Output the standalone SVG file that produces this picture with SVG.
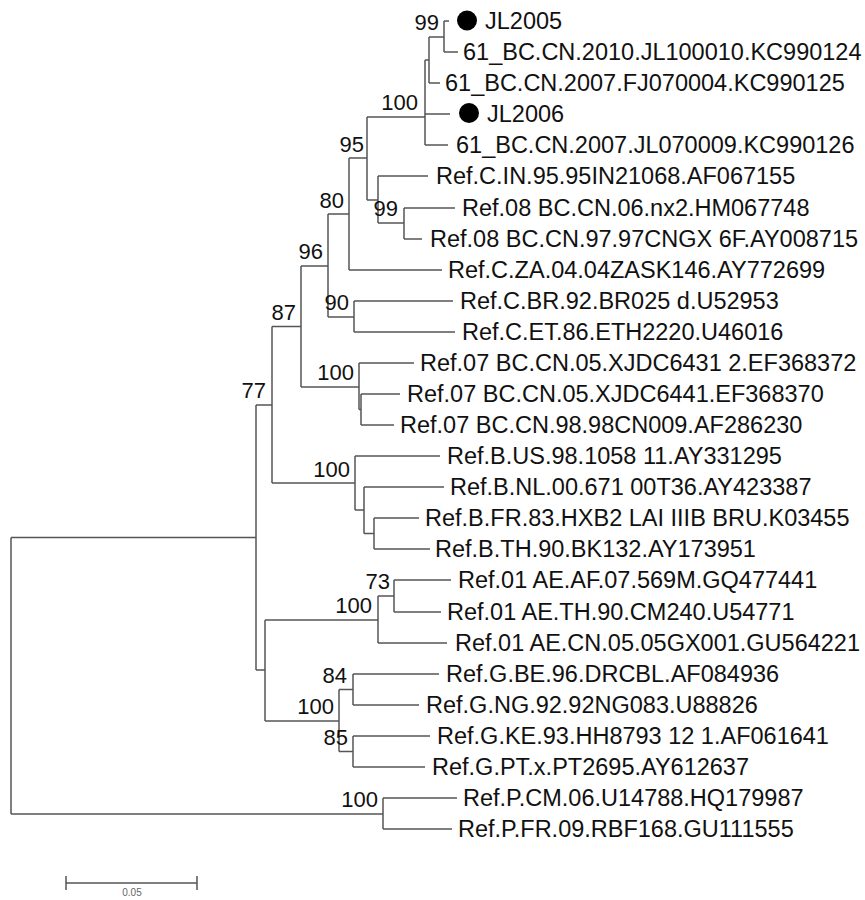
<svg xmlns="http://www.w3.org/2000/svg" width="865" height="900" viewBox="0 0 865 900">
<style>
.e{fill:none;stroke:#555;stroke-width:1.5}
.t{font-family:"Liberation Sans",Arial,sans-serif;font-size:23.5px;fill:#111}
.b{font-family:"Liberation Sans",Arial,sans-serif;font-size:22px;fill:#111;text-anchor:end}
.s{font-family:"Liberation Sans",Arial,sans-serif;font-size:10px;fill:#666;text-anchor:middle}
</style>
<rect width="865" height="900" fill="#fff"/>
<g id="connectors" class="e">
<path d="M11,537.5V814M11,537.5H256M11,814H383"/>
<path d="M256,405V670M256,405H272M256,670H265"/>
<path d="M272,326.5V483M272,326.5H301M272,483H355"/>
<path d="M301,266V387M301,266H328M301,387H359"/>
<path d="M328,214V317M328,214H349M328,317H354"/>
<path d="M349,158V270M349,158H367M349,270H442"/>
<path d="M367,117V200M367,117H425M367,200H378"/>
<path d="M425,60V145M425,60H429M425,114H450M425,145H448"/>
<path d="M429,37V83M429,37H444M429,83H440"/>
<path d="M444,21V52M444,21H449M444,52H458"/>
<path d="M378,176V223M378,176H428M378,223H404"/>
<path d="M404,208V239M404,208H455M404,239H422"/>
<path d="M354,301V332M354,301H453M354,332H455"/>
<path d="M359,363V409.5M359,363H414M359,409.5H361"/>
<path d="M361,394V425M361,394H400M361,425H394"/>
<path d="M355,456V510M355,456H440M355,510H364"/>
<path d="M364,487V533.5M364,487H444M364,533.5H374"/>
<path d="M374,518V549M374,518H419M374,549H430"/>
<path d="M265,620V721M265,620H378M265,721H339"/>
<path d="M378,596V643M378,596H394M378,643H447"/>
<path d="M394,580V612M394,580H451M394,612H441"/>
<path d="M339,689.5V751.5M339,689.5H353M339,751.5H353"/>
<path d="M353,674V705M353,674H439M353,705H419"/>
<path d="M353,736V767M353,736H430M353,767H425"/>
<path d="M383,798V829M383,798H457M383,829H452"/>
</g>
<g id="scale">
<path class="e" d="M66,883H197M66,876V890M197,876V890"/>
<text class="s" x="132" y="896">0.05</text>
</g>
<g id="bootstrap">
<text class="b" x="439" y="30">99</text>
<text class="b" x="418" y="110">100</text>
<text class="b" x="364" y="152">95</text>
<text class="b" x="398" y="216">99</text>
<text class="b" x="344" y="208">80</text>
<text class="b" x="323" y="259">96</text>
<text class="b" x="349" y="310">90</text>
<text class="b" x="296" y="320">87</text>
<text class="b" x="354" y="380">100</text>
<text class="b" x="266" y="398">77</text>
<text class="b" x="350" y="477">100</text>
<text class="b" x="390" y="589">73</text>
<text class="b" x="372" y="613">100</text>
<text class="b" x="347" y="683">84</text>
<text class="b" x="334" y="714">100</text>
<text class="b" x="348" y="745">85</text>
<text class="b" x="378" y="807">100</text>
</g>
<g id="n1"><circle cx="467" cy="20.5" r="10" fill="#000"/><text class="t" x="485" y="29">JL2005</text></g>
<g id="n2"><text class="t" x="463" y="60">61_BC.CN.2010.JL100010.KC990124</text></g>
<g id="n3"><text class="t" x="445" y="91">61_BC.CN.2007.FJ070004.KC990125</text></g>
<g id="n4"><circle cx="469" cy="113" r="10" fill="#000"/><text class="t" x="487" y="122">JL2006</text></g>
<g id="n5"><text class="t" x="456" y="153">61_BC.CN.2007.JL070009.KC990126</text></g>
<g id="n6"><text class="t" x="436" y="184">Ref.C.IN.95.95IN21068.AF067155</text></g>
<g id="n7"><text class="t" x="462" y="216">Ref.08 BC.CN.06.nx2.HM067748</text></g>
<g id="n8"><text class="t" x="430" y="247">Ref.08 BC.CN.97.97CNGX 6F.AY008715</text></g>
<g id="n9"><text class="t" x="448" y="278">Ref.C.ZA.04.04ZASK146.AY772699</text></g>
<g id="n10"><text class="t" x="460" y="309">Ref.C.BR.92.BR025 d.U52953</text></g>
<g id="n11"><text class="t" x="462" y="340">Ref.C.ET.86.ETH2220.U46016</text></g>
<g id="n12"><text class="t" x="420" y="371">Ref.07 BC.CN.05.XJDC6431 2.EF368372</text></g>
<g id="n13"><text class="t" x="407" y="402">Ref.07 BC.CN.05.XJDC6441.EF368370</text></g>
<g id="n14"><text class="t" x="400" y="433">Ref.07 BC.CN.98.98CN009.AF286230</text></g>
<g id="n15"><text class="t" x="447" y="464">Ref.B.US.98.1058 11.AY331295</text></g>
<g id="n16"><text class="t" x="450" y="495">Ref.B.NL.00.671 00T36.AY423387</text></g>
<g id="n17"><text class="t" x="425" y="526">Ref.B.FR.83.HXB2 LAI IIIB BRU.K03455</text></g>
<g id="n18"><text class="t" x="435" y="557">Ref.B.TH.90.BK132.AY173951</text></g>
<g id="n19"><text class="t" x="458" y="588">Ref.01 AE.AF.07.569M.GQ477441</text></g>
<g id="n20"><text class="t" x="447" y="620">Ref.01 AE.TH.90.CM240.U54771</text></g>
<g id="n21"><text class="t" x="455" y="651">Ref.01 AE.CN.05.05GX001.GU564221</text></g>
<g id="n22"><text class="t" x="446" y="682">Ref.G.BE.96.DRCBL.AF084936</text></g>
<g id="n23"><text class="t" x="426" y="713">Ref.G.NG.92.92NG083.U88826</text></g>
<g id="n24"><text class="t" x="437" y="744">Ref.G.KE.93.HH8793 12 1.AF061641</text></g>
<g id="n25"><text class="t" x="432" y="775">Ref.G.PT.x.PT2695.AY612637</text></g>
<g id="n26"><text class="t" x="463" y="806">Ref.P.CM.06.U14788.HQ179987</text></g>
<g id="n27"><text class="t" x="458" y="837">Ref.P.FR.09.RBF168.GU111555</text></g>
</svg>
